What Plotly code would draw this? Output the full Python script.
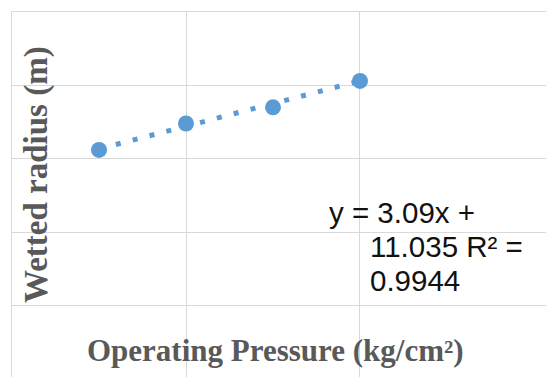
import plotly.graph_objects as go

# Data
pressure = [1.5, 2.0, 2.5, 3.0]          # Operating pressure (kg/cm²)
wetted_radius = [15.6, 17.4, 18.5, 20.3]  # Wetted radius (m)
slope = 3.09
intercept = 11.035
r_squared = 0.9944
eq_lines = ["y = 3.09x +", "11.035 R² =", "0.9944"]

x_title = "Operating Pressure (kg/cm²)"
y_title = "Wetted radius (m)"

blue = "#5b9bd5"
grid = "#d9d9d9"
title_col = "#595959"

trend_x = [pressure[0], pressure[-1]]
trend_y = [slope * v + intercept for v in trend_x]

fig = go.Figure()
fig.add_trace(go.Scatter(
    x=trend_x, y=trend_y, mode="lines",
    line=dict(color=blue, width=5, dash="5px,12.4px"),
    hoverinfo="skip", showlegend=False,
))
fig.add_trace(go.Scatter(
    x=pressure, y=wetted_radius, mode="markers",
    marker=dict(color=blue, size=16, line=dict(width=0)),
    showlegend=False,
))

# page body has an 8px margin, so the figure is offset by 8px in the window
fig.update_layout(
    width=546, height=369,
    margin=dict(l=4, r=0, t=4, b=0),
    paper_bgcolor="white", plot_bgcolor="white",
    xaxis=dict(
        range=[1, 4.115], tickvals=[2, 3], showticklabels=False,
        showgrid=True, gridcolor=grid, gridwidth=1.3,
        zeroline=False, side="top",
        showline=True, linecolor=grid, linewidth=1.3, ticks="",
    ),
    yaxis=dict(
        range=[0.12, 25], tickvals=[5, 10, 15, 20], showticklabels=False,
        showgrid=True, gridcolor=grid, gridwidth=1.3,
        zeroline=False,
        showline=True, linecolor=grid, linewidth=1.3, ticks="",
    ),
    font=dict(family="Liberation Sans, Arial, sans-serif"),
)

ann_font = dict(family="Liberation Sans, Arial, sans-serif", size=29.5, color="#111111")
# positions given in window pixels, converted to paper coords of the plot area
W, H = 542, 365
def px(xp):
    return (xp - 12) / W
def py(yp):
    return 1 - (yp - 12) / H

fig.add_annotation(text=eq_lines[0], x=px(327), y=py(212), xref="paper", yref="paper",
                   xanchor="left", yanchor="middle", showarrow=False, font=ann_font)
fig.add_annotation(text=eq_lines[1], x=px(368), y=py(246), xref="paper", yref="paper",
                   xanchor="left", yanchor="middle", showarrow=False, font=ann_font)
fig.add_annotation(text=eq_lines[2], x=px(368), y=py(280), xref="paper", yref="paper",
                   xanchor="left", yanchor="middle", showarrow=False, font=ann_font)

fig.add_annotation(text="<b>" + y_title + "</b>", x=px(36), y=py(175), xref="paper", yref="paper",
                   xanchor="center", yanchor="middle", textangle=-90, showarrow=False,
                   font=dict(family="Liberation Serif, Times New Roman, serif", size=33, color=title_col))
fig.add_annotation(text="<b>" + x_title + "</b>", x=px(275), y=py(350), xref="paper", yref="paper",
                   xanchor="center", yanchor="middle", showarrow=False,
                   font=dict(family="Liberation Serif, Times New Roman, serif", size=31, color=title_col))

fig.write_html("out.html")
